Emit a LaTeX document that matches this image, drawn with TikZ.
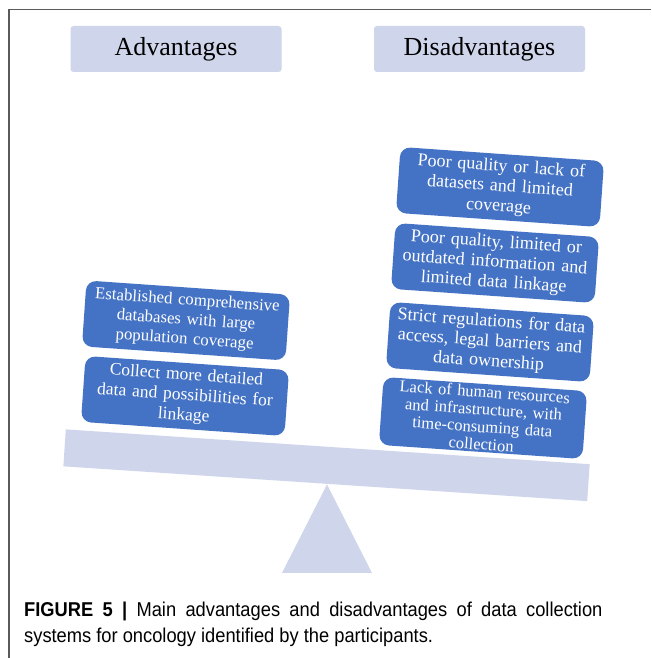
\documentclass[tikz,border=0pt]{standalone}
\usepackage{fontspec}
\setmainfont{Liberation Serif}
\newfontfamily\capfont{Liberation Sans}
\definecolor{lav}{HTML}{CFD5EA}
\definecolor{boxblue}{HTML}{4472C4}
\definecolor{framegray}{HTML}{5A5A5A}
\tikzset{
  headbox/.style={fill=lav, rounded corners=3pt, minimum width=211pt, minimum height=46pt, inner sep=0pt, font=\fontsize{26}{28}\selectfont},
  itembox/.style={fill=boxblue, text=white, rounded corners=10pt, rotate=-4, minimum width=204pt, minimum height=66pt, text width=200pt, align=center, inner sep=0pt, font=\fontsize{18}{20}\selectfont},
  beamshape/.style={fill=lav, rotate=-3.8, minimum width=525pt, minimum height=37pt, inner sep=0pt},
  captext/.style={anchor=base west, inner sep=0pt, font=\capfont\fontsize{20}{22}\selectfont}
}
\begin{document}
\begin{tikzpicture}[x=1pt,y=1pt]
\useasboundingbox (0,0) rectangle (651,658);
\fill[white] (0,0) rectangle (651,658);
\draw[framegray, line width=1.2pt] (9,0) -- (9,648.5) -- (651,648.5);
% headers
\node[headbox] (adv) at (176,609) {Advantages};
\node[headbox] (dis) at (479.5,609) {Disadvantages};
% beam and fulcrum
\node[beamshape] (beam) at (326.5,192.75) {};
\fill[lav] (282,85) -- (327,173.5) -- (372,85) -- cycle;
% advantages
\node[itembox, font=\fontsize{16.8}{19.5}\selectfont] (a1) at (186,337.5) {Established comprehensive\\databases with large\\population coverage};
\node[itembox, font=\fontsize{17.5}{20}\selectfont] (a2) at (185,262) {Collect more detailed\\data and possibilities for\\linkage};
% disadvantages
\node[itembox] (d1) at (500,471) {Poor quality or lack of\\datasets and limited\\coverage};
\node[itembox] (d2) at (495,395) {Poor quality, limited or\\outdated information and\\limited data linkage};
\node[itembox] (d3) at (490,316) {Strict regulations for data\\access, legal barriers and\\data ownership};
\node[itembox, minimum height=68pt, font=\fontsize{16.5}{17.5}\selectfont] (d4) at (483,240) {Lack of human resources\\and infrastructure, with\\time-consuming data\\collection};
% caption
\node[captext] (cap1) at (24,41) {\scalebox{0.915}[1]{\hbox to 632pt{\textbf{FIGURE 5 |} Main advantages and disadvantages of data collection}}};
\node[captext] (cap2) at (24,16) {\scalebox{0.915}[1]{systems for oncology identified by the participants.}};
\end{tikzpicture}
\end{document}
